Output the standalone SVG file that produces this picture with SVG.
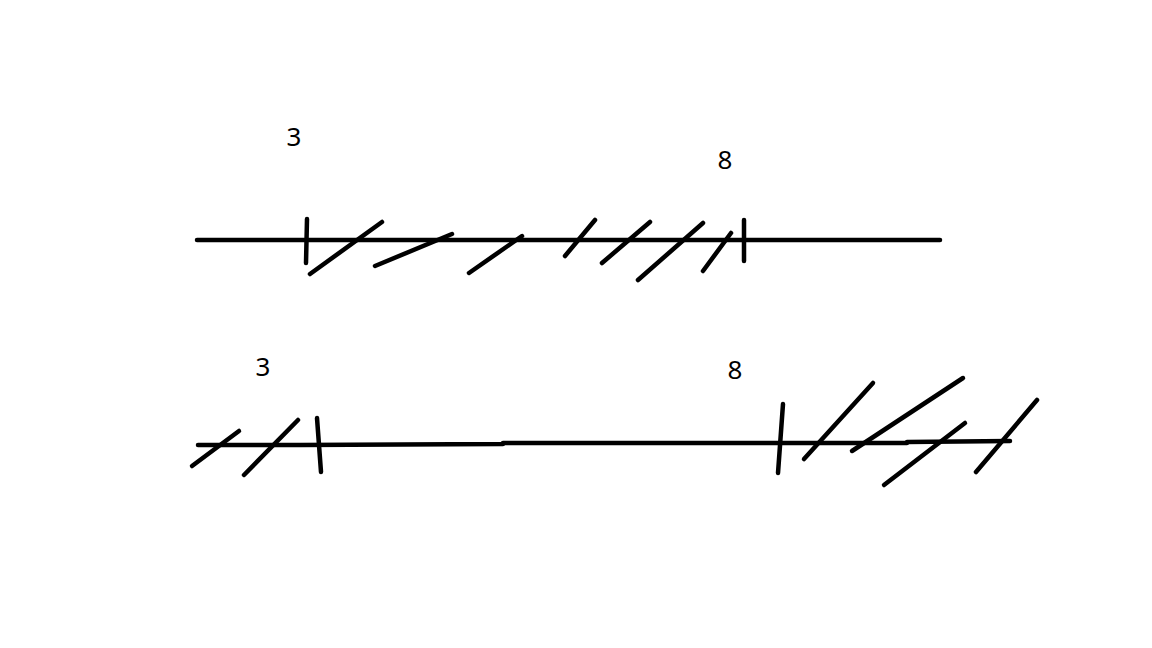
<svg xmlns="http://www.w3.org/2000/svg" width="1152" height="648" viewBox="0 0 1152 648">
<style>
.s{stroke:#000;stroke-width:4.5;stroke-linecap:round;stroke-linejoin:round;fill:none}
.t{font-family:"Noto Sans","Open Sans",sans-serif;font-size:26px;fill:#000;text-anchor:middle}
</style>
<rect width="1152" height="648" fill="#fff"/>
<g id="top">
<path class="s" d="M197,240 L940,240"/>
<path class="s" d="M307,219 L306,263"/>
<path class="s" d="M744,220 L744,261"/>
<path class="s" d="M310,274 L382,222"/>
<path class="s" d="M375,266 L452,234"/>
<path class="s" d="M469,273 L522,236"/>
<path class="s" d="M565,256 L595,220"/>
<path class="s" d="M602,263 L650,222"/>
<path class="s" d="M638,280 L703,223"/>
<path class="s" d="M703,271 L731,233"/>
<text class="t" x="294" y="146">3</text>
<text class="t" x="725" y="169">8</text>
</g>
<g id="bottom">
<path class="s" d="M198,445 L300,445 L503,444 L503,443 L907,443 L907,442 L1010,441"/>
<path class="s" d="M317,418 L321,472"/>
<path class="s" d="M783,404 L778,473"/>
<path class="s" d="M192,466 L239,431"/>
<path class="s" d="M244,475 L298,420"/>
<path class="s" d="M804,459 L873,383"/>
<path class="s" d="M852,451 L963,378"/>
<path class="s" d="M884,485 L965,423"/>
<path class="s" d="M976,472 L1037,400"/>
<text class="t" x="263" y="376">3</text>
<text class="t" x="735" y="379">8</text>
</g>
</svg>
